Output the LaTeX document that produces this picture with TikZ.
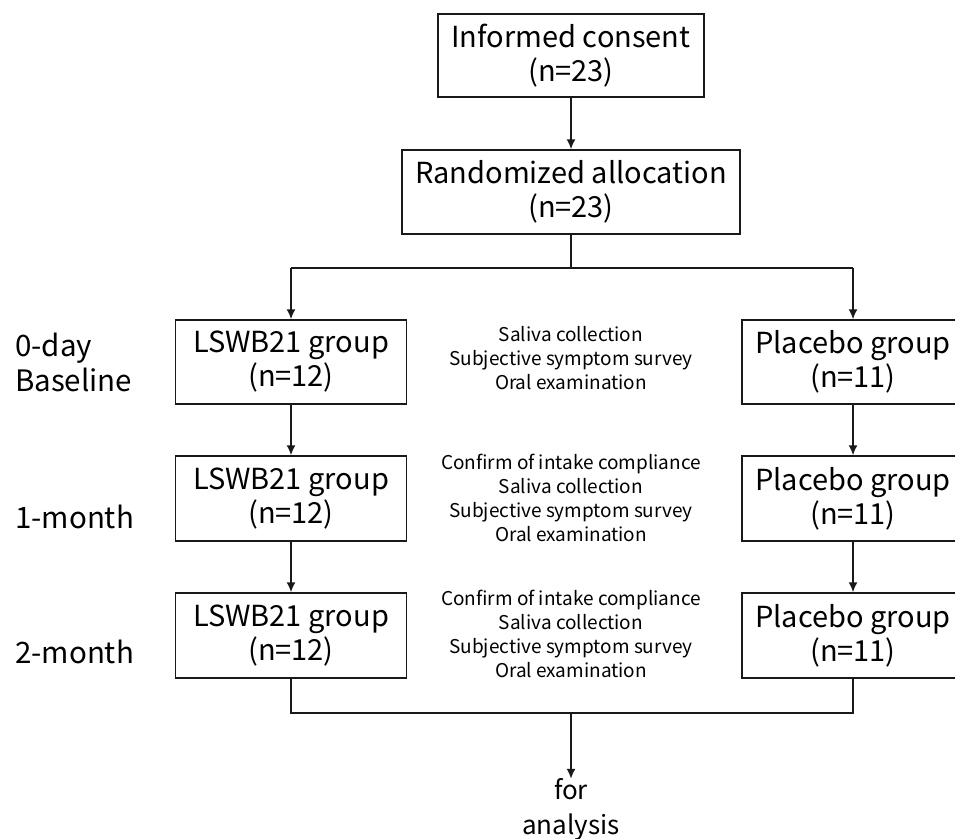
\documentclass[tikz,border=0pt]{standalone}
\usepackage{fontspec}
\setmainfont{Noto Sans CJK JP}
\usetikzlibrary{arrows.meta}
\begin{document}
\begin{tikzpicture}[x=1pt,y=-1pt,
  box/.style={draw=black!90,line width=1.5pt,fill=white,align=center,inner sep=0pt,
    font=\fontsize{29}{34}\selectfont},
  note/.style={align=center,font=\fontsize{19}{24}\selectfont,inner sep=0pt},
  side/.style={align=left,anchor=west,font=\fontsize{29.5}{35}\selectfont,inner sep=0pt},
  conn/.style={draw=black!90,line width=1.6pt},
  arr/.style={conn,-{Latex[length=10pt,width=9pt]}}]
\clip (0,0) rectangle (955,838);
\useasboundingbox (0,0) rectangle (955,838);
\node[box,minimum width=266pt,minimum height=83pt] (consent) at (571,55.5) {Informed consent\\(n=23)};
\node[box,minimum width=338pt,minimum height=84pt] (random) at (571,192) {Randomized allocation\\(n=23)};
\foreach \i/\y/\h in {0/362/84,1/498.5/85,2/635.5/85}{
  \node[box,minimum width=231pt,minimum height=\h pt] (L\i) at (291,\y) {LSWB21 group\\(n=12)};
  \node[box,minimum width=222pt,minimum height=\h pt] (P\i) at (853,\y) {Placebo group\\(n=11)};
}
\node[side] (t0) at (15,362) {0-day\\Baseline};
\node[side] (t1) at (15,517) {1-month};
\node[side] (t2) at (15,652) {2-month};
\node[note] (n0) at (571,358) {Saliva collection\\Subjective symptom survey\\Oral examination};
\node[note] (n1) at (571,497.5) {Confirm of intake compliance\\Saliva collection\\Subjective symptom survey\\Oral examination};
\node[note] (n2) at (571,634) {Confirm of intake compliance\\Saliva collection\\Subjective symptom survey\\Oral examination};
\node[align=center,inner sep=0pt,font=\fontsize{26}{35}\selectfont] (fa) at (571,810) {for\\analysis};
\coordinate (sp) at (571,268);
\coordinate (jn) at (571,713);
\draw[arr] (consent) -- (random);
\draw[conn] (random.south) -- (sp);
\draw[conn] (L0.north |- sp) -- (P0.north |- sp);
\draw[arr] (L0.north |- sp) -- (L0.north);
\draw[arr] (P0.north |- sp) -- (P0.north);
\draw[arr] (L0) -- (L1);
\draw[arr] (L1) -- (L2);
\draw[arr] (P0) -- (P1);
\draw[arr] (P1) -- (P2);
\draw[conn] (L2.south) |- (jn) -| (P2.south);
\draw[arr] (jn) -- (fa.north);
\end{tikzpicture}
\end{document}
